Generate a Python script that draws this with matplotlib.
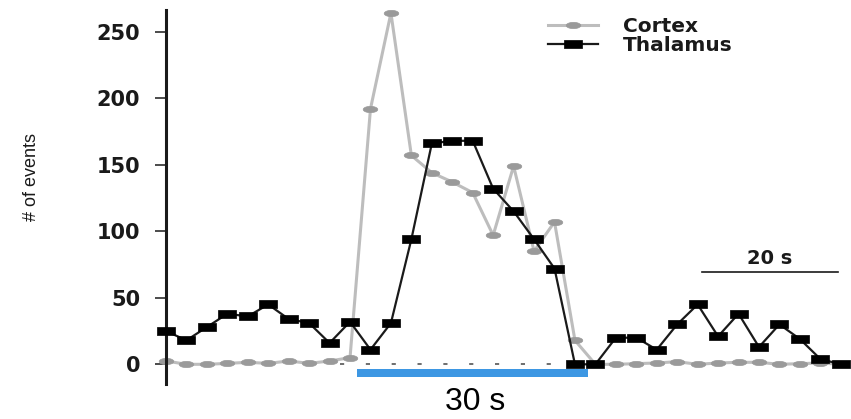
import numpy as np
import matplotlib
matplotlib.use("Agg")
import matplotlib.pyplot as plt
from matplotlib.patches import Rectangle

# ---- data (time bins) ----
bins = list(range(34))
thalamus = [25, 18, 28, 38, 36, 45, 34, 31, 16, 32, 11, 31, 94, 166, 168, 168,
            132, 115, 94, 72, 0, 0, 20, 20, 11, 30, 45, 21, 38, 13, 30, 19, 4, 0]
cortex = [2.5, 0, 0, 0.7, 1.5, 0.7, 2.5, 0.7, 2.5, 5, 192, 264, 157, 144, 137, 129,
          97, 149, 85, 107, 18, 0, 0, 0.5, 1, 2, 0, 1, 1.5, 1.5, 0, 0.5, 1, 0]
yticks = [0, 50, 100, 150, 200, 250]
series_labels = ["Cortex", "Thalamus"]

# annotation extents (in bin units)
stim_start, stim_end = 9.34, 20.64
scale_start, scale_end = 26.2, 32.85

TXT = "#1a1a1a"

fig = plt.figure(figsize=(8.51, 4.19), dpi=100)
ax = fig.add_axes([166 / 851, 35 / 419, 1 - 166 / 851, 374 / 419])
ax.set_xlim(0, 33.5)
ax.set_ylim(-14.8, 266.3)

# custom wide markers
rect = [(-1, -0.47), (1, -0.47), (1, 0.47), (-1, 0.47), (-1, -0.47)]
t = np.linspace(0, 2 * np.pi, 40)
ellipse = list(zip(np.cos(t), 0.43 * np.sin(t)))

# dashed baseline
ax.plot([8.5, 19.9], [0, 0], ls=(0, (2.5, 13)), color="#555555", lw=1.2, zorder=1)

ax.plot(bins, cortex, color="#bdbdbd", lw=2.2, marker=ellipse, markersize=10.5,
        markerfacecolor="#9a9a9a", markeredgecolor="#9a9a9a", markeredgewidth=0.5,
        label=series_labels[0], zorder=2, clip_on=False)
ax.plot(bins, thalamus, color="#1a1a1a", lw=1.6, marker=rect, markersize=13.5,
        markerfacecolor="black", markeredgecolor="black", markeredgewidth=0.5,
        label=series_labels[1], zorder=3, clip_on=False)

# spines and ticks
for s in ["top", "right", "bottom"]:
    ax.spines[s].set_visible(False)
ax.spines["left"].set_linewidth(2.2)
ax.spines["left"].set_color("#1a1a1a")
ax.set_xticks([])
ax.set_yticks(yticks)
ax.tick_params(axis="y", length=8, width=1.1, pad=10.5, colors=TXT,
               labelsize=15)
for lab in ax.get_yticklabels():
    lab.set_fontfamily("DejaVu Sans")
    lab.set_fontweight("bold")
    lab.set_color(TXT)

# stimulus bar
ax.add_patch(Rectangle((stim_start, -9.3), stim_end - stim_start, 6.1,
                       facecolor="#3d97e3", edgecolor="none", clip_on=False, zorder=1))
ax.text(15.1, -28.2, "30 s", ha="center", va="center", fontsize=23,
        family="Liberation Sans", color="black", clip_on=False)

# scale bar
ax.plot([scale_start, scale_end], [69.6, 69.6], color="#1a1a1a", lw=1.2)
ax.text(29.5, 79.9, "20 s", ha="center", va="center", fontsize=14,
        family="DejaVu Sans", fontweight="bold", color=TXT)

# y label
fig.text(31 / 851, 1 - 177 / 419, "# of events", rotation=90, ha="center",
         va="center", fontsize=13, family="Liberation Sans", color=TXT)

leg = ax.legend(loc="upper left", bbox_to_anchor=(548 / 851, 1 - 17 / 419),
                bbox_transform=fig.transFigure, frameon=False, borderpad=0,
                borderaxespad=0, handlelength=2.5, handletextpad=1.2,
                labelspacing=0.0, numpoints=1,
                prop={"family": "DejaVu Sans", "weight": "bold", "size": 14.5})
for txt in leg.get_texts():
    txt.set_color(TXT)

fig.savefig("out.png", dpi=100)
